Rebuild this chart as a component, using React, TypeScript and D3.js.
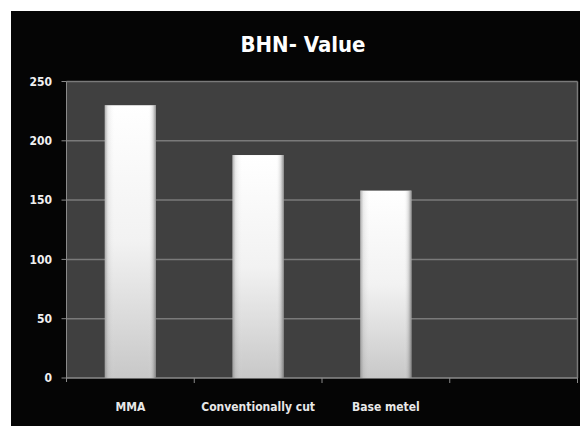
import React from "react";
import * as d3 from "d3";

const categories = ["MMA", "Conventionally cut", "Base metel", ""];
const values = [230, 188, 158, null as number | null];
const yTicks = [0, 50, 100, 150, 200, 250];
const title = "BHN- Value";

export default function App() {
  const W = 580, H = 426;
  const left = 66.5, right = 577.5, top = 81.5, bottom = 378;
  const x = d3.scaleBand<string>().domain(categories.map((c, i) => String(i))).range([left, right]).paddingInner(0).paddingOuter(0);
  const y = d3.scaleLinear().domain([0, 250]).range([bottom, top]);
  const bw = x.bandwidth() * 0.4;
  const font = "'DejaVu Sans Condensed', 'DejaVu Sans', sans-serif";
  return (
    <svg width={W} height={H} style={{ position: "absolute", left: 0, top: 0 }}>
      <defs>
        <linearGradient id="gv" x1="0" y1="0" x2="0" y2="1">
          <stop offset="0" stopColor="#ffffff" />
          <stop offset="0.5" stopColor="#f2f2f2" />
          <stop offset="1" stopColor="#c8c8c8" />
        </linearGradient>
        <linearGradient id="gh" x1="0" y1="0" x2="1" y2="0">
          <stop offset="0" stopColor="#808080" stopOpacity="0.6" />
          <stop offset="0.06" stopColor="#808080" stopOpacity="0.15" />
          <stop offset="0.2" stopColor="#ffffff" stopOpacity="0" />
          <stop offset="0.85" stopColor="#ffffff" stopOpacity="0" />
          <stop offset="0.94" stopColor="#808080" stopOpacity="0.25" />
          <stop offset="1" stopColor="#606060" stopOpacity="0.7" />
        </linearGradient>
      </defs>
      <rect x={0} y={0} width={W} height={H} fill="#ffffff" />
      <rect x={11} y={11} width={W - 11} height={H - 11} fill="#050505" />
      <rect x={left} y={top} width={right - left} height={bottom - top} fill="#404040" />
      {yTicks.map((t) => (
        <g key={t}>
          {t > 0 && <line x1={left} x2={right} y1={y(t)} y2={y(t)} stroke="#7a7a7a" strokeWidth={1.5} />}
          <line x1={left - 5} x2={left} y1={y(t)} y2={y(t)} stroke="#8a8a8a" strokeWidth={1} />
          <text x={52} y={y(t)} dy="0.35em" textAnchor="end" fill="#f0f0f0" fontFamily={font} fontWeight="bold" fontSize={12}>{t}</text>
        </g>
      ))}
      <line x1={right} x2={right} y1={top} y2={bottom} stroke="#7a7a7a" strokeWidth={1.5} />
      <line x1={left} x2={left} y1={top} y2={bottom + 4} stroke="#8a8a8a" strokeWidth={1} />
      <line x1={left} x2={right} y1={bottom} y2={bottom} stroke="#8a8a8a" strokeWidth={1.5} />
      {categories.map((c, i) => {
        const x0 = x(String(i))!;
        return <line key={"t" + i} x1={x0 + x.bandwidth()} x2={x0 + x.bandwidth()} y1={bottom} y2={bottom + 5} stroke="#8a8a8a" strokeWidth={1} />;
      })}
      {categories.map((c, i) => {
        const v = values[i];
        const cx = x(String(i))! + x.bandwidth() / 2;
        return (
          <g key={"b" + i}>
            {v != null && (
              <g>
                <rect x={cx - bw / 2} y={y(v)} width={bw} height={bottom - y(v)} fill="url(#gv)" />
                <rect x={cx - bw / 2} y={y(v)} width={bw} height={bottom - y(v)} fill="url(#gh)" />
              </g>
            )}
            {c && (
              <text x={cx} y={411} textAnchor="middle" fill="#e8e8e8" fontFamily={font} fontWeight="bold" fontSize={12}>{c}</text>
            )}
          </g>
        );
      })}
      <text x={303} y={52} textAnchor="middle" fill="#ffffff" fontFamily={font} fontWeight="bold" fontSize={22}>{title}</text>
    </svg>
  );
}
